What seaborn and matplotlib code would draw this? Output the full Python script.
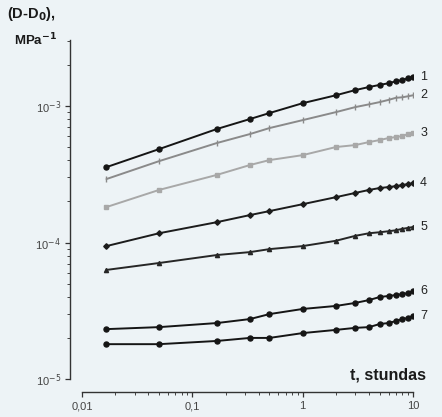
# creep compliance curves, log-log
import numpy as np
import pandas as pd
import matplotlib
matplotlib.use("Agg")
import matplotlib.pyplot as plt
import matplotlib.ticker as mticker
import seaborn as sns

# time, hours
t = [1/60, 3/60, 10/60, 20/60, 30/60, 1, 2, 3, 4, 5, 6, 7, 8, 9, 10]

# (D-D0), 1/MPa
d1 = [3.57e-4, 4.84e-4, 6.79e-4, 8.04e-4, 8.89e-4, 1.05e-3, 1.20e-3, 1.31e-3,
      1.38e-3, 1.43e-3, 1.47e-3, 1.52e-3, 1.55e-3, 1.60e-3, 1.63e-3]
d2 = [2.92e-4, 3.95e-4, 5.36e-4, 6.24e-4, 6.90e-4, 7.89e-4, 9.03e-4, 9.83e-4,
      1.03e-3, 1.07e-3, 1.11e-3, 1.15e-3, 1.16e-3, 1.18e-3, 1.20e-3]
d3 = [1.82e-4, 2.43e-4, 3.13e-4, 3.70e-4, 4.02e-4, 4.37e-4, 5.01e-4, 5.18e-4,
      5.45e-4, 5.64e-4, 5.83e-4, 5.93e-4, 6.03e-4, 6.24e-4, 6.34e-4]
d4 = [9.42e-5, 1.17e-4, 1.41e-4, 1.59e-4, 1.70e-4, 1.91e-4, 2.15e-4, 2.31e-4,
      2.43e-4, 2.51e-4, 2.55e-4, 2.59e-4, 2.64e-4, 2.68e-4, 2.72e-4]
d5 = [6.30e-5, 7.08e-5, 8.10e-5, 8.51e-5, 8.95e-5, 9.42e-5, 1.03e-4, 1.12e-4,
      1.17e-4, 1.19e-4, 1.21e-4, 1.23e-4, 1.26e-4, 1.28e-4, 1.30e-4]
d6 = [2.32e-5, 2.40e-5, 2.57e-5, 2.75e-5, 2.99e-5, 3.26e-5, 3.43e-5, 3.61e-5,
      3.79e-5, 3.99e-5, 4.06e-5, 4.12e-5, 4.19e-5, 4.26e-5, 4.41e-5]
d7 = [1.80e-5, 1.80e-5, 1.90e-5, 2.00e-5, 2.00e-5, 2.17e-5, 2.29e-5, 2.37e-5,
      2.40e-5, 2.53e-5, 2.57e-5, 2.66e-5, 2.75e-5, 2.80e-5, 2.90e-5]

curves = [d1, d2, d3, d4, d5, d6, d7]
curve_names = ["1", "2", "3", "4", "5", "6", "7"]

# look of each curve
colors = ["#151515", "#8a8a8a", "#a8a8a8", "#1c1c1c", "#262626", "#151515", "#151515"]
markers = ["o", "|", "s", "D", "^", "o", "o"]
msizes = [3.6, 4, 3, 2.8, 3, 3.6, 3.6]

sns.set_style("ticks")
plt.rcParams["font.family"] = ["Liberation Sans", "DejaVu Sans"]

fig = plt.figure(figsize=(4.42, 4.17), dpi=100)
fig.patch.set_facecolor("#edf3f6")
ax = fig.add_axes([82/442, 38/417, 331/442, 339/417])
ax.set_facecolor("#edf3f6")

for name, d, c, m, ms in zip(curve_names, curves, colors, markers, msizes):
    df = pd.DataFrame({"t": t, "D": d})
    sns.lineplot(data=df, x="t", y="D", ax=ax, color=c, marker=m,
                 markersize=ms, markeredgecolor=c, markeredgewidth=1.0,
                 linewidth=1.4, errorbar=None)
    ax.text(11.6, d[-1], name, fontsize=9, color="#222222",
            ha="left", va="center")

ax.set_xscale("log")
ax.set_yscale("log")
ax.set_xlim(0.01, 10)
ax.set_ylim(1e-5, 3.05e-3)

# detached axes lines
sns.despine(ax=ax)
ax.spines["left"].set_position(("outward", 8.6))
ax.spines["bottom"].set_position(("outward", 9.4))
for s in ["left", "bottom"]:
    ax.spines[s].set_color("#333333")
    ax.spines[s].set_linewidth(1.0)

ax.xaxis.set_major_locator(mticker.FixedLocator([0.01, 0.1, 1, 10]))
ax.xaxis.set_major_formatter(mticker.FixedFormatter(["0,01", "0,1", "1", "10"]))
ax.xaxis.set_minor_locator(mticker.LogLocator(base=10, subs=np.arange(2, 10)))
ax.xaxis.set_minor_formatter(mticker.NullFormatter())

ax.yaxis.set_major_locator(mticker.FixedLocator([1e-5, 1e-4, 1e-3]))
ax.yaxis.set_major_formatter(mticker.FixedFormatter(["10$^{-5}$", "10$^{-4}$", "10$^{-3}$"]))
ax.yaxis.set_minor_locator(mticker.LogLocator(base=10, subs=np.arange(2, 10)))
ax.yaxis.set_minor_formatter(mticker.NullFormatter())

ax.tick_params(which="major", length=3.5, width=0.9, colors="#333333",
               labelsize=8, labelcolor="#444444", pad=3)
ax.tick_params(which="minor", length=2, width=0.7, colors="#444444")

ax.set_xlabel("")
ax.set_ylabel("")

fig.text(7/442, 1 - 14/417, "(D-D$_\\mathbf{0}$),", fontsize=10.5, fontweight="bold",
         ha="left", va="center", color="#1a1a1a")
fig.text(14/442, 1 - 40/417, "MPa$^{\\mathbf{-1}}$", fontsize=9.5, fontweight="bold",
         ha="left", va="center", color="#1a1a1a")
fig.text(426/442, 1 - 375/417, "t, stundas", fontsize=11.5, fontweight="bold",
         ha="right", va="center", color="#1a1a1a")

fig.savefig("out.png", dpi=100, facecolor=fig.get_facecolor())
